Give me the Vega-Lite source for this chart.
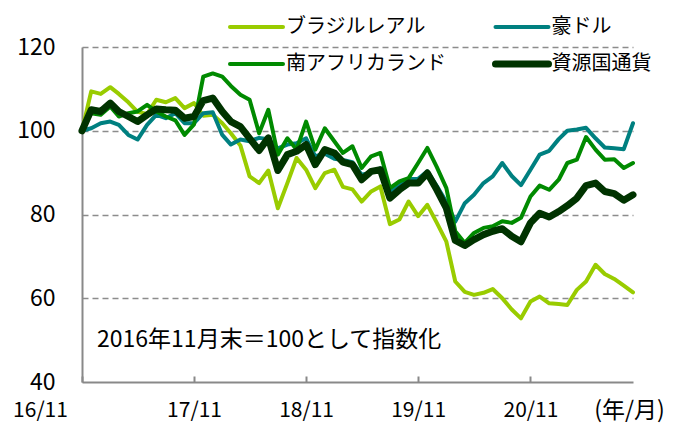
{
"$schema": "https://vega.github.io/schema/vega-lite/v6.json",
"width": 551, "height": 335,
"autosize": {"type": "none"},
"padding": {"left": 82, "top": 47, "right": 50, "bottom": 46},
"background": "white",
"config": {"view": {"stroke": null}, "font": "Noto Sans CJK JP"},
"layer": [
{
"data": {"values": [
{"d":"2016-11-01","s":"ブラジルレアル","v":100},{"d":"2016-12-01","s":"ブラジルレアル","v":109.4},{"d":"2017-01-01","s":"ブラジルレアル","v":108.8},{"d":"2017-02-01","s":"ブラジルレアル","v":110.4},{"d":"2017-03-01","s":"ブラジルレアル","v":108.8},{"d":"2017-04-01","s":"ブラジルレアル","v":106.8},{"d":"2017-05-01","s":"ブラジルレアル","v":104.5},{"d":"2017-06-01","s":"ブラジルレアル","v":104},{"d":"2017-07-01","s":"ブラジルレアル","v":107.4},{"d":"2017-08-01","s":"ブラジルレアル","v":106.8},
{"d":"2017-09-01","s":"ブラジルレアル","v":107.8},{"d":"2017-10-01","s":"ブラジルレアル","v":105.4},{"d":"2017-11-01","s":"ブラジルレアル","v":106.6},{"d":"2017-12-01","s":"ブラジルレアル","v":103.6},{"d":"2018-01-01","s":"ブラジルレアル","v":103.8},{"d":"2018-02-01","s":"ブラジルレアル","v":101.8},{"d":"2018-03-01","s":"ブラジルレアル","v":99.4},{"d":"2018-04-01","s":"ブラジルレアル","v":96.5},{"d":"2018-05-01","s":"ブラジルレアル","v":89.1},{"d":"2018-06-01","s":"ブラジルレアル","v":87.5},
{"d":"2018-07-01","s":"ブラジルレアル","v":90.5},{"d":"2018-08-01","s":"ブラジルレアル","v":81.5},{"d":"2018-09-01","s":"ブラジルレアル","v":87.5},{"d":"2018-10-01","s":"ブラジルレアル","v":93.5},{"d":"2018-11-01","s":"ブラジルレアル","v":90.7},{"d":"2018-12-01","s":"ブラジルレアル","v":86.3},{"d":"2019-01-01","s":"ブラジルレアル","v":89.9},{"d":"2019-02-01","s":"ブラジルレアル","v":90.7},{"d":"2019-03-01","s":"ブラジルレアル","v":86.6},{"d":"2019-04-01","s":"ブラジルレアル","v":86},
{"d":"2019-05-01","s":"ブラジルレアル","v":83.1},{"d":"2019-06-01","s":"ブラジルレアル","v":85.5},{"d":"2019-07-01","s":"ブラジルレアル","v":86.7},{"d":"2019-08-01","s":"ブラジルレアル","v":77.7},{"d":"2019-09-01","s":"ブラジルレアル","v":78.8},{"d":"2019-10-01","s":"ブラジルレアル","v":83.1},{"d":"2019-11-01","s":"ブラジルレアル","v":79.6},{"d":"2019-12-01","s":"ブラジルレアル","v":82.3},{"d":"2020-01-01","s":"ブラジルレアル","v":78},{"d":"2020-02-01","s":"ブラジルレアル","v":73.5},
{"d":"2020-03-01","s":"ブラジルレアル","v":64},{"d":"2020-04-01","s":"ブラジルレアル","v":61.5},{"d":"2020-05-01","s":"ブラジルレアル","v":60.8},{"d":"2020-06-01","s":"ブラジルレアル","v":61.3},{"d":"2020-07-01","s":"ブラジルレアル","v":62.2},{"d":"2020-08-01","s":"ブラジルレアル","v":60},{"d":"2020-09-01","s":"ブラジルレアル","v":57.3},{"d":"2020-10-01","s":"ブラジルレアル","v":55.2},{"d":"2020-11-01","s":"ブラジルレアル","v":59.2},{"d":"2020-12-01","s":"ブラジルレアル","v":60.4},
{"d":"2021-01-01","s":"ブラジルレアル","v":58.8},{"d":"2021-02-01","s":"ブラジルレアル","v":58.6},{"d":"2021-03-01","s":"ブラジルレアル","v":58.4},{"d":"2021-04-01","s":"ブラジルレアル","v":62},{"d":"2021-05-01","s":"ブラジルレアル","v":64},{"d":"2021-06-01","s":"ブラジルレアル","v":68},{"d":"2021-07-01","s":"ブラジルレアル","v":65.8},{"d":"2021-08-01","s":"ブラジルレアル","v":64.6},{"d":"2021-09-01","s":"ブラジルレアル","v":63},{"d":"2021-10-01","s":"ブラジルレアル","v":61.4},
{"d":"2016-11-01","s":"豪ドル","v":100},{"d":"2016-12-01","s":"豪ドル","v":100.6},{"d":"2017-01-01","s":"豪ドル","v":101.8},{"d":"2017-02-01","s":"豪ドル","v":102.2},{"d":"2017-03-01","s":"豪ドル","v":101.4},{"d":"2017-04-01","s":"豪ドル","v":99},{"d":"2017-05-01","s":"豪ドル","v":97.9},{"d":"2017-06-01","s":"豪ドル","v":101.4},{"d":"2017-07-01","s":"豪ドル","v":103.8},{"d":"2017-08-01","s":"豪ドル","v":103},
{"d":"2017-09-01","s":"豪ドル","v":104.2},{"d":"2017-10-01","s":"豪ドル","v":101.8},{"d":"2017-11-01","s":"豪ドル","v":101.8},{"d":"2017-12-01","s":"豪ドル","v":104.2},{"d":"2018-01-01","s":"豪ドル","v":104.4},{"d":"2018-02-01","s":"豪ドル","v":99},{"d":"2018-03-01","s":"豪ドル","v":96.7},{"d":"2018-04-01","s":"豪ドル","v":97.9},{"d":"2018-05-01","s":"豪ドル","v":97.5},{"d":"2018-06-01","s":"豪ドル","v":98.3},
{"d":"2018-07-01","s":"豪ドル","v":98},{"d":"2018-08-01","s":"豪ドル","v":95.8},{"d":"2018-09-01","s":"豪ドル","v":96.7},{"d":"2018-10-01","s":"豪ドル","v":97},{"d":"2018-11-01","s":"豪ドル","v":98.2},{"d":"2018-12-01","s":"豪ドル","v":93.9},{"d":"2019-01-01","s":"豪ドル","v":94.5},{"d":"2019-02-01","s":"豪ドル","v":93.3},{"d":"2019-03-01","s":"豪ドル","v":93},{"d":"2019-04-01","s":"豪ドル","v":92.5},
{"d":"2019-05-01","s":"豪ドル","v":89.5},{"d":"2019-06-01","s":"豪ドル","v":90},{"d":"2019-07-01","s":"豪ドル","v":91},{"d":"2019-08-01","s":"豪ドル","v":85.5},{"d":"2019-09-01","s":"豪ドル","v":87},{"d":"2019-10-01","s":"豪ドル","v":88.5},{"d":"2019-11-01","s":"豪ドル","v":88.5},{"d":"2019-12-01","s":"豪ドル","v":90.3},{"d":"2020-01-01","s":"豪ドル","v":86.8},{"d":"2020-02-01","s":"豪ドル","v":83},
{"d":"2020-03-01","s":"豪ドル","v":78.3},{"d":"2020-04-01","s":"豪ドル","v":82.7},{"d":"2020-05-01","s":"豪ドル","v":84.7},{"d":"2020-06-01","s":"豪ドル","v":87.5},{"d":"2020-07-01","s":"豪ドル","v":89.1},{"d":"2020-08-01","s":"豪ドル","v":92.3},{"d":"2020-09-01","s":"豪ドル","v":89.2},{"d":"2020-10-01","s":"豪ドル","v":87},{"d":"2020-11-01","s":"豪ドル","v":90.7},{"d":"2020-12-01","s":"豪ドル","v":94.3},
{"d":"2021-01-01","s":"豪ドル","v":95.2},{"d":"2021-02-01","s":"豪ドル","v":98},{"d":"2021-03-01","s":"豪ドル","v":100},{"d":"2021-04-01","s":"豪ドル","v":100.3},{"d":"2021-05-01","s":"豪ドル","v":100.7},{"d":"2021-06-01","s":"豪ドル","v":98.2},{"d":"2021-07-01","s":"豪ドル","v":96},{"d":"2021-08-01","s":"豪ドル","v":95.8},{"d":"2021-09-01","s":"豪ドル","v":95.6},{"d":"2021-10-01","s":"豪ドル","v":101.8},
{"d":"2016-11-01","s":"南アフリカランド","v":100},{"d":"2016-12-01","s":"南アフリカランド","v":104.2},{"d":"2017-01-01","s":"南アフリカランド","v":103.8},{"d":"2017-02-01","s":"南アフリカランド","v":105.8},{"d":"2017-03-01","s":"南アフリカランド","v":103.4},{"d":"2017-04-01","s":"南アフリカランド","v":104.2},{"d":"2017-05-01","s":"南アフリカランド","v":104.6},{"d":"2017-06-01","s":"南アフリカランド","v":106.2},{"d":"2017-07-01","s":"南アフリカランド","v":104.6},{"d":"2017-08-01","s":"南アフリカランド","v":103.4},
{"d":"2017-09-01","s":"南アフリカランド","v":102.5},{"d":"2017-10-01","s":"南アフリカランド","v":99},{"d":"2017-11-01","s":"南アフリカランド","v":101.5},{"d":"2017-12-01","s":"南アフリカランド","v":112.9},{"d":"2018-01-01","s":"南アフリカランド","v":113.7},{"d":"2018-02-01","s":"南アフリカランド","v":112.9},{"d":"2018-03-01","s":"南アフリカランド","v":110.7},{"d":"2018-04-01","s":"南アフリカランド","v":108.6},{"d":"2018-05-01","s":"南アフリカランド","v":107.4},{"d":"2018-06-01","s":"南アフリカランド","v":99.4},
{"d":"2018-07-01","s":"南アフリカランド","v":105},{"d":"2018-08-01","s":"南アフリカランド","v":94.3},{"d":"2018-09-01","s":"南アフリカランド","v":98.2},{"d":"2018-10-01","s":"南アフリカランド","v":95.5},{"d":"2018-11-01","s":"南アフリカランド","v":102.2},{"d":"2018-12-01","s":"南アフリカランド","v":95.5},{"d":"2019-01-01","s":"南アフリカランド","v":100.6},{"d":"2019-02-01","s":"南アフリカランド","v":97.5},{"d":"2019-03-01","s":"南アフリカランド","v":94.7},{"d":"2019-04-01","s":"南アフリカランド","v":96.3},
{"d":"2019-05-01","s":"南アフリカランド","v":91.1},{"d":"2019-06-01","s":"南アフリカランド","v":93.9},{"d":"2019-07-01","s":"南アフリカランド","v":94.7},{"d":"2019-08-01","s":"南アフリカランド","v":86.3},{"d":"2019-09-01","s":"南アフリカランド","v":87.9},{"d":"2019-10-01","s":"南アフリカランド","v":88.7},{"d":"2019-11-01","s":"南アフリカランド","v":92.3},{"d":"2019-12-01","s":"南アフリカランド","v":95.9},{"d":"2020-01-01","s":"南アフリカランド","v":91.3},{"d":"2020-02-01","s":"南アフリカランド","v":86.3},
{"d":"2020-03-01","s":"南アフリカランド","v":76},{"d":"2020-04-01","s":"南アフリカランド","v":73.2},{"d":"2020-05-01","s":"南アフリカランド","v":75.6},{"d":"2020-06-01","s":"南アフリカランド","v":76.8},{"d":"2020-07-01","s":"南アフリカランド","v":77.2},{"d":"2020-08-01","s":"南アフリカランド","v":78.4},{"d":"2020-09-01","s":"南アフリカランド","v":78},{"d":"2020-10-01","s":"南アフリカランド","v":79.2},{"d":"2020-11-01","s":"南アフリカランド","v":84.3},{"d":"2020-12-01","s":"南アフリカランド","v":86.9},
{"d":"2021-01-01","s":"南アフリカランド","v":85.9},{"d":"2021-02-01","s":"南アフリカランド","v":88.3},{"d":"2021-03-01","s":"南アフリカランド","v":92.3},{"d":"2021-04-01","s":"南アフリカランド","v":93.1},{"d":"2021-05-01","s":"南アフリカランド","v":98.5},{"d":"2021-06-01","s":"南アフリカランド","v":95.5},{"d":"2021-07-01","s":"南アフリカランド","v":93.1},{"d":"2021-08-01","s":"南アフリカランド","v":93.2},{"d":"2021-09-01","s":"南アフリカランド","v":91.1},{"d":"2021-10-01","s":"南アフリカランド","v":92.3},
{"d":"2016-11-01","s":"資源国通貨","v":100},{"d":"2016-12-01","s":"資源国通貨","v":105},{"d":"2017-01-01","s":"資源国通貨","v":104.6},{"d":"2017-02-01","s":"資源国通貨","v":106.6},{"d":"2017-03-01","s":"資源国通貨","v":104.6},{"d":"2017-04-01","s":"資源国通貨","v":103.4},{"d":"2017-05-01","s":"資源国通貨","v":102.2},{"d":"2017-06-01","s":"資源国通貨","v":103.8},{"d":"2017-07-01","s":"資源国通貨","v":105.2},{"d":"2017-08-01","s":"資源国通貨","v":105},
{"d":"2017-09-01","s":"資源国通貨","v":104.9},{"d":"2017-10-01","s":"資源国通貨","v":103},{"d":"2017-11-01","s":"資源国通貨","v":103.4},{"d":"2017-12-01","s":"資源国通貨","v":107.2},{"d":"2018-01-01","s":"資源国通貨","v":107.8},{"d":"2018-02-01","s":"資源国通貨","v":104.6},{"d":"2018-03-01","s":"資源国通貨","v":102.2},{"d":"2018-04-01","s":"資源国通貨","v":101},{"d":"2018-05-01","s":"資源国通貨","v":98.2},{"d":"2018-06-01","s":"資源国通貨","v":95.3},
{"d":"2018-07-01","s":"資源国通貨","v":98.3},{"d":"2018-08-01","s":"資源国通貨","v":90.5},{"d":"2018-09-01","s":"資源国通貨","v":94.3},{"d":"2018-10-01","s":"資源国通貨","v":95.1},{"d":"2018-11-01","s":"資源国通貨","v":96.7},{"d":"2018-12-01","s":"資源国通貨","v":91.9},{"d":"2019-01-01","s":"資源国通貨","v":95.5},{"d":"2019-02-01","s":"資源国通貨","v":94.7},{"d":"2019-03-01","s":"資源国通貨","v":92.5},{"d":"2019-04-01","s":"資源国通貨","v":91.9},
{"d":"2019-05-01","s":"資源国通貨","v":88.3},{"d":"2019-06-01","s":"資源国通貨","v":90.3},{"d":"2019-07-01","s":"資源国通貨","v":90.7},{"d":"2019-08-01","s":"資源国通貨","v":83.9},{"d":"2019-09-01","s":"資源国通貨","v":85.9},{"d":"2019-10-01","s":"資源国通貨","v":87.5},{"d":"2019-11-01","s":"資源国通貨","v":87.5},{"d":"2019-12-01","s":"資源国通貨","v":89.9},{"d":"2020-01-01","s":"資源国通貨","v":85.9},{"d":"2020-02-01","s":"資源国通貨","v":81.5},
{"d":"2020-03-01","s":"資源国通貨","v":73.8},{"d":"2020-04-01","s":"資源国通貨","v":72.6},{"d":"2020-05-01","s":"資源国通貨","v":74},{"d":"2020-06-01","s":"資源国通貨","v":75.2},{"d":"2020-07-01","s":"資源国通貨","v":76},{"d":"2020-08-01","s":"資源国通貨","v":76.6},{"d":"2020-09-01","s":"資源国通貨","v":74.8},{"d":"2020-10-01","s":"資源国通貨","v":73.5},{"d":"2020-11-01","s":"資源国通貨","v":78},{"d":"2020-12-01","s":"資源国通貨","v":80.3},
{"d":"2021-01-01","s":"資源国通貨","v":79.4},{"d":"2021-02-01","s":"資源国通貨","v":80.7},{"d":"2021-03-01","s":"資源国通貨","v":82.1},{"d":"2021-04-01","s":"資源国通貨","v":83.9},{"d":"2021-05-01","s":"資源国通貨","v":86.9},{"d":"2021-06-01","s":"資源国通貨","v":87.5},{"d":"2021-07-01","s":"資源国通貨","v":85.5},{"d":"2021-08-01","s":"資源国通貨","v":85},{"d":"2021-09-01","s":"資源国通貨","v":83.4},{"d":"2021-10-01","s":"資源国通貨","v":84.7}
]},
"mark": {"type": "line", "strokeJoin": "round", "strokeCap": "round"},
"encoding": {
"x": {"field": "d", "type": "temporal",
"scale": {"type": "utc", "domain": [{"year": 2016, "month": 11, "date": 1, "utc": true}, {"year": 2021, "month": 10, "date": 1, "utc": true}]},
"axis": {"title": "(年/月)", "titleX": 547, "titleY": 28, "titleAlign": "center", "titleBaseline": "middle", "titleFontSize": 23, "titleFontWeight": "normal", "titleColor": "black", "titleFont": "Noto Sans CJK JP",
"values": [{"year": 2016, "month": 11, "date": 1, "utc": true}, {"year": 2017, "month": 11, "date": 1, "utc": true}, {"year": 2018, "month": 11, "date": 1, "utc": true}, {"year": 2019, "month": 11, "date": 1, "utc": true}, {"year": 2020, "month": 11, "date": 1, "utc": true}],
"labelExpr": "utcFormat(datum.value, '%y/%m')", "labelFontSize": 21, "labelColor": "black", "labelFont": "Noto Sans CJK JP", "labelBaseline": "middle", "labelPadding": 34,
"labelOffset": {"condition": {"test": "datum.value < utc(2017,0,1)", "value": -42}, "value": 0},
"labelFlush": false, "labelOverlap": false, "labelBound": false,
"tickSize": -6, "tickColor": "#898989", "tickWidth": 2, "domainColor": "#898989", "domainWidth": 2, "grid": false}},
"y": {"field": "v", "type": "quantitative", "scale": {"domain": [40, 120]},
"axis": {"title": null, "values": [40, 60, 80, 100, 120], "labelFontSize": 23, "labelColor": "black", "labelFont": "Noto Sans CJK JP", "labelPadding": 27, "ticks": false, "domainColor": "#898989", "domainWidth": 2, "grid": true, "gridColor": "#8c8c8c", "gridDash": [6, 4], "gridWidth": 1.5, "gridOpacity": {"condition": {"test": "datum.value == 40", "value": 0}, "value": 1}}},
"color": {"field": "s", "type": "nominal", "sort": null,
"scale": {"domain": ["ブラジルレアル", "南アフリカランド", "豪ドル", "資源国通貨"], "range": ["#99CC00", "#008A00", "#008080", "#003300"]},
"legend": {"orient": "none", "legendX": 164.5, "legendY": -30, "columns": 2, "columnPadding": 34.5, "rowPadding": 13, "padding": 0, "title": null,
"symbolType": "M-2.65,0H2.65", "symbolSize": 400, "labelFontSize": 20, "labelFont": "Noto Sans CJK JP", "labelColor": "black", "labelOffset": 19.5, "labelLimit": 400,
"encode": {"symbols": {"update": {"strokeCap": {"value": "round"}, "strokeWidth": {"signal": "datum.value === '資源国通貨' ? 7 : 4"}}}}}},
"strokeWidth": {"field": "s", "type": "nominal", "scale": {"type": "ordinal", "domain": ["ブラジルレアル", "豪ドル", "南アフリカランド", "資源国通貨"], "range": [4, 4, 4, 7]}, "legend": null}
}
},
{
"data": {"values": [{"d": "2016-12-20", "v": 50, "t": "2016年11月末＝100として指数化"}]},
"mark": {"type": "text", "align": "left", "baseline": "middle", "fontSize": 23, "font": "Noto Sans CJK JP", "color": "black"},
"encoding": {"x": {"field": "d", "type": "temporal"}, "y": {"field": "v", "type": "quantitative"}, "text": {"field": "t"}}
}
]
}
